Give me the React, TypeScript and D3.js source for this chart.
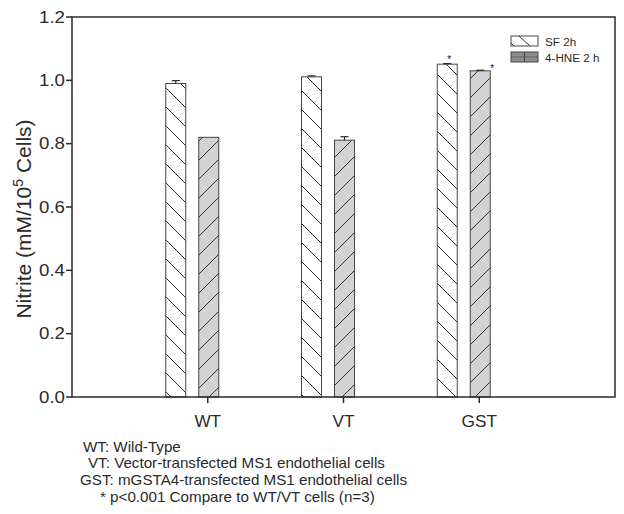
import React from "react";
import * as d3 from "d3";

const categories = ["WT", "VT", "GST"];
const sfValues = [0.99, 1.011, 1.051];
const sfErrors = [0.009, 0.003, 0.002];
const hneValues = [0.82, 0.811, 1.03];
const hneErrors = [0, 0.011, 0.002];
const sfStars = [false, false, true];
const hneStars = [false, false, true];
const yTicks = [0, 0.2, 0.4, 0.6, 0.8, 1.0, 1.2];
const legendLabels = ["SF 2h", "4-HNE 2 h"];
const notes = [
  "WT: Wild-Type",
  "VT: Vector-transfected MS1 endothelial cells",
  "GST: mGSTA4-transfected MS1 endothelial cells",
  "* p<0.001 Compare to WT/VT cells (n=3)",
];
const noteX = [83, 88, 80, 100];

const W = 624;
const H = 514;
const left = 72, right = 615, top = 17, bottom = 397;
const font = "'Liberation Sans', Arial, Helvetica, sans-serif";
const ink = "#2a2a2a";

export default function App() {
  const x = d3.scaleLinear().domain([0, 4]).range([left, right]);
  const y = d3.scaleLinear().domain([0, 1.2]).range([bottom, top]);
  const bw = 20;
  const sfOff = -32;
  const hneOff = 1;

  const errBar = (cx: number, v: number, e: number, key: string) => {
    if (e <= 0) return null;
    return (
      <g key={key} stroke={ink} strokeWidth={1.2}>
        <line x1={cx} x2={cx} y1={y(v)} y2={y(v + e)} />
        <line x1={cx - 4} x2={cx + 4} y1={y(v + e)} y2={y(v + e)} />
      </g>
    );
  };

  return (
    <div style={{ position: "absolute", left: 0, top: 0 }}>
      <svg width={W} height={H} style={{ display: "block", background: "#fff" }}>
        <defs>
          <pattern id="sfPat" patternUnits="userSpaceOnUse" width={19} height={19} x={0} y={bottom % 19}>
            <rect width={19} height={19} fill="#fff" />
            <path d="M-2,-2 L21,21 M-2,17 L2,21 M17,-2 L21,2" stroke="#333" strokeWidth={1} />
          </pattern>
          <pattern id="hnePat" patternUnits="userSpaceOnUse" width={19} height={19} x={0} y={bottom % 19}>
            <rect width={19} height={19} fill="#d2d2d2" />
            <path d="M-2,21 L21,-2 M-2,2 L2,-2 M17,21 L21,17" stroke="#333" strokeWidth={1} />
          </pattern>
        </defs>

        {/* bars */}
        {categories.map((c, i) => {
          const cx = x(i + 1);
          return (
            <g key={c}>
              <rect
                x={cx + sfOff - bw / 2}
                y={y(sfValues[i])}
                width={bw}
                height={y(0) - y(sfValues[i])}
                fill="url(#sfPat)"
                stroke="#444"
                strokeWidth={1}
              />
              <rect
                x={cx + hneOff - bw / 2}
                y={y(hneValues[i])}
                width={bw}
                height={y(0) - y(hneValues[i])}
                fill="url(#hnePat)"
                stroke="#444"
                strokeWidth={1}
              />
              {errBar(cx + sfOff, sfValues[i], sfErrors[i], "se" + i)}
              {errBar(cx + hneOff, hneValues[i], hneErrors[i], "he" + i)}
              {sfStars[i] && (
                <text x={cx + sfOff + 2} y={y(sfValues[i] + sfErrors[i]) - 1} fontFamily={font} fontSize={10} textAnchor="middle" fill="#111">*</text>
              )}
              {hneStars[i] && (
                <text x={cx + hneOff + 12} y={y(hneValues[i] + hneErrors[i]) + 2} fontFamily={font} fontSize={10} textAnchor="middle" fill="#111">*</text>
              )}
            </g>
          );
        })}

        {/* frame */}
        <rect x={left} y={top} width={right - left} height={bottom - top} fill="none" stroke={ink} strokeWidth={1.5} />

        {/* y axis ticks */}
        {yTicks.map((t) => (
          <g key={t}>
            <line x1={left - 6} x2={left} y1={y(t)} y2={y(t)} stroke={ink} strokeWidth={1.5} />
            <text
              transform={`translate(${left - 7},${y(t)}) scale(1.19,1)`}
              dy="0.36em"
              textAnchor="end"
              fontFamily={font}
              fontSize={15.7}
              fill={ink}
            >
              {d3.format(".1f")(t)}
            </text>
          </g>
        ))}

        {/* x axis ticks */}
        {categories.map((c, i) => (
          <g key={"xt" + c}>
            <line x1={x(i + 1)} x2={x(i + 1)} y1={bottom} y2={bottom + 6} stroke={ink} strokeWidth={1.5} />
            <text
              transform={`translate(${x(i + 1)},427) scale(1.04,1)`}
              textAnchor="middle"
              fontFamily={font}
              fontSize={16.5}
              fill={ink}
            >
              {c}
            </text>
          </g>
        ))}

        {/* y axis title */}
        <text
          transform={`translate(31,219) rotate(-90)`}
          textAnchor="middle"
          fontFamily={font}
          fontSize={21}
          fill={ink}
        >
          Nitrite (mM/10
          <tspan fontSize={14} dy={-8}>5</tspan>
          <tspan dy={8}> Cells)</tspan>
        </text>

        {/* legend */}
        <g>
          <rect x={511} y={36} width={27} height={10} fill="#fff" stroke="#444" strokeWidth={1} />
          <line x1={519} y1={36} x2={530} y2={46} stroke="#333" strokeWidth={1} />
          <path d="M511,43 L514,46" stroke="#333" strokeWidth={1} />
          <text x={545} y={45.5} fontFamily={font} fontSize={11.7} fill={ink}>{legendLabels[0]}</text>
          <rect x={511} y={52} width={27} height={10} fill="#8c8c8c" stroke="#444" strokeWidth={1} />
          <line x1={524.5} y1={52} x2={524.5} y2={62} stroke="#444" strokeWidth={1} />
          <line x1={511} y1={57} x2={538} y2={57} stroke="#555" strokeWidth={0.8} />
          <text x={545} y={61.5} fontFamily={font} fontSize={11.7} fill={ink}>{legendLabels[1]}</text>
        </g>

        {/* notes */}
        {notes.map((n, i) => (
          <text
            key={n}
            transform={`translate(${noteX[i]},${451.5 + i * 16.7}) scale(1.085,1)`}
            fontFamily={font}
            fontSize={14}
            fill={ink}
          >
            {n}
          </text>
        ))}
      </svg>
    </div>
  );
}
